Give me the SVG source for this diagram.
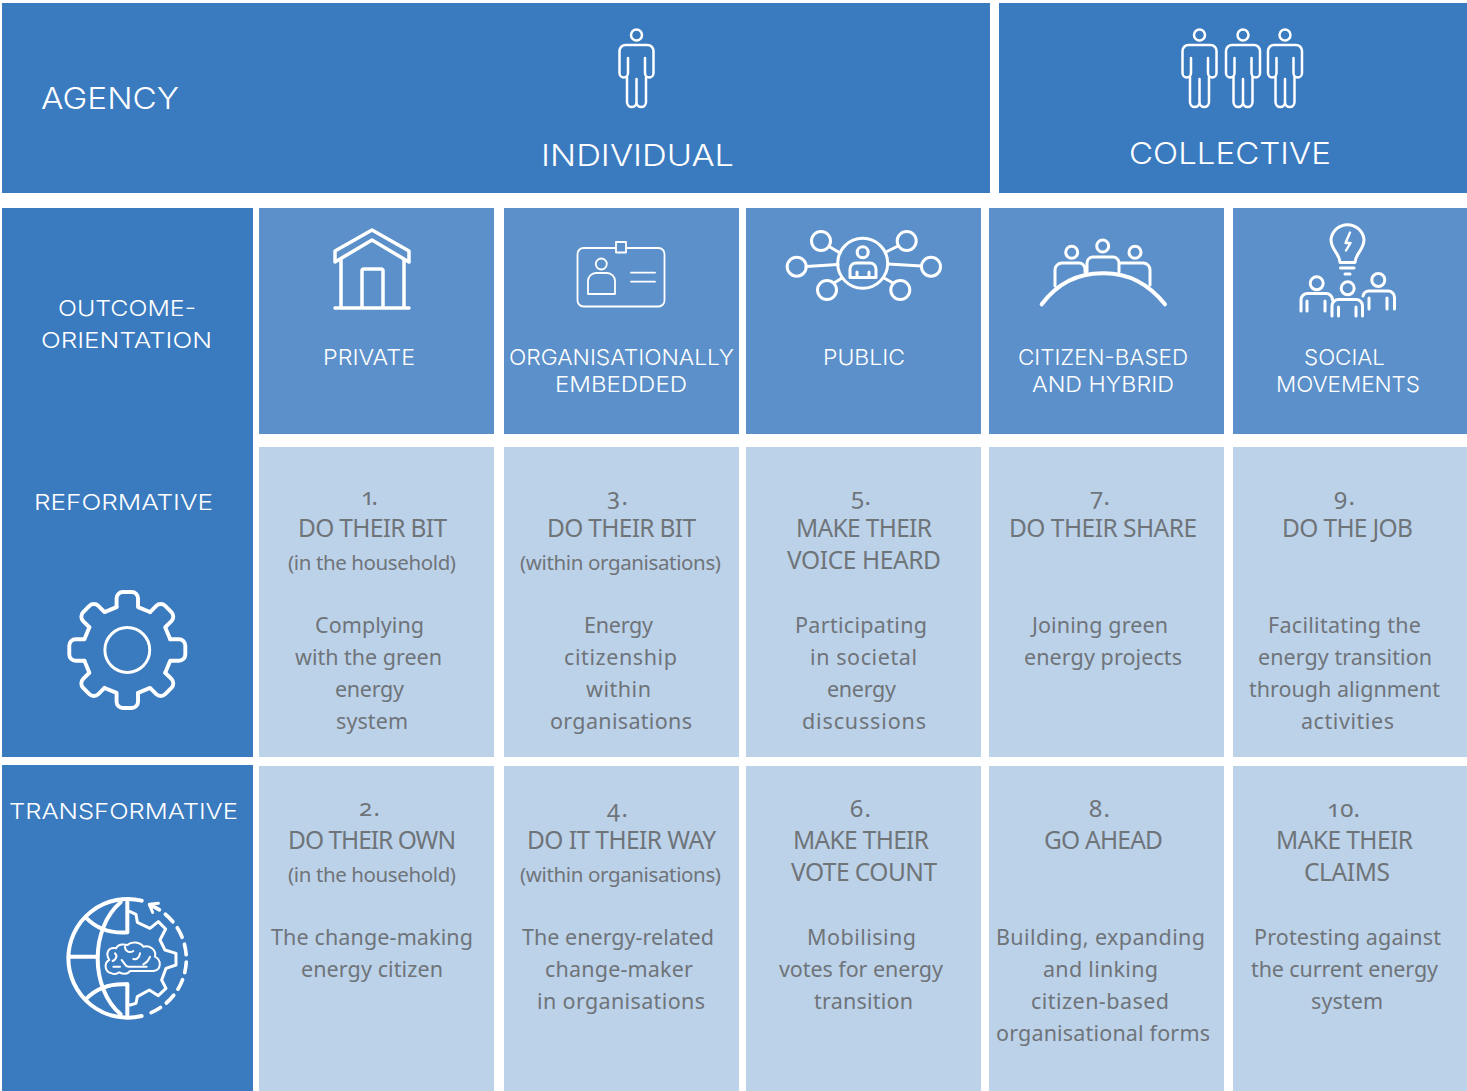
<svg xmlns="http://www.w3.org/2000/svg" width="1467" height="1091" viewBox="0 0 1467 1091">
<style>
.d{fill:#3a7abf}.m{fill:#5b90ca}.l{fill:#bcd2e9}
text{white-space:pre}
.h{font-family:"Inter","Liberation Sans",sans-serif;font-weight:300;fill:#fff}
.h1{font-size:30px}.h2{font-size:22px}
.b{font-family:"Noto Sans","Liberation Sans",sans-serif;font-weight:400;fill:#6f7479}
.t{font-size:24.500px}.s{font-size:21.500px}.p{font-size:20.500px}.n{font-size:24px;font-variant-numeric:oldstyle-nums;font-feature-settings:"onum"}
.i{fill:none;stroke:#fff;stroke-linecap:round;stroke-linejoin:round}
</style>
<defs>
<g id="person" class="i" stroke-width="2.500">
<circle cx="0" cy="35" r="5.500"/>
<path d="M-8.500,58V73a4.250,4.500 0 0 1-8.500,0V51a6,6 0 0 1 6-6H11a6,6 0 0 1 6,6V73a4.250,4.500 0 0 1-8.500,0V58"/>
<path d="M-9.500,77V102a4.750,5 0 0 0 9.500,0V79V102a4.750,5 0 0 0 9.500,0V77"/>
</g>
<path id="tooth" d="M-11,-44V-53a6.500,6.500 0 0 1 6.500-6.500h9a6.500,6.500 0 0 1 6.500,6.500V-44L23.300,-38.900"/>
</defs>
<rect width="1467" height="1091" fill="#fff"/>

<g id="agency-header">
<rect class="d" x="2" y="3" width="988" height="190"/>
<text class="h h1" x="41" y="109" textLength="138" lengthAdjust="spacingAndGlyphs">AGENCY</text>
<use href="#person" x="636.500" y="0"/>
<text class="h h1" x="541" y="166" textLength="193" lengthAdjust="spacingAndGlyphs">INDIVIDUAL</text>
</g>
<g id="collective-header">
<rect class="d" x="999" y="3" width="468" height="190"/>
<use href="#person" x="1199.500" y="0"/>
<use href="#person" x="1243" y="0"/>
<use href="#person" x="1285" y="0"/>
<text class="h h1" x="1129" y="164" textLength="202" lengthAdjust="spacingAndGlyphs">COLLECTIVE</text>
</g>

<g id="axis-reformative">
<rect class="d" x="2" y="208" width="251" height="549"/>
<text class="h h2" x="58" y="316" textLength="138" lengthAdjust="spacingAndGlyphs">OUTCOME-</text>
<text class="h h2" x="41" y="348" textLength="171" lengthAdjust="spacingAndGlyphs">ORIENTATION</text>
<text class="h h2" x="34" y="510" textLength="179" lengthAdjust="spacingAndGlyphs">REFORMATIVE</text>
<g class="i" stroke-width="4" transform="translate(127.300,650) scale(.975)">
<circle r="23" stroke-width="3"/>
<use href="#tooth"/><use href="#tooth" transform="rotate(45)"/><use href="#tooth" transform="rotate(90)"/><use href="#tooth" transform="rotate(135)"/><use href="#tooth" transform="rotate(180)"/><use href="#tooth" transform="rotate(225)"/><use href="#tooth" transform="rotate(270)"/><use href="#tooth" transform="rotate(315)"/>
</g>
</g>
<g id="axis-transformative">
<rect class="d" x="2" y="765" width="251" height="326"/>
<text class="h h2" x="9" y="819" textLength="229" lengthAdjust="spacingAndGlyphs">TRANSFORMATIVE</text>
<g class="i" transform="translate(50,885) scale(.3333)">
<g stroke-width="12">
<path d="M275,47A178,178 0 1 0 275,393"/>
<path d="M232,50V142M232,298V390M56,215H140"/>
<path d="M212,52C120,130 120,310 212,388"/>
<path d="M110,100C145,135 190,145 232,142M110,340C145,305 190,295 232,298"/>
</g>
<path stroke-width="9" d="M240,80L258,88L262,112L300,130L325,110L347,132L330,165L345,195L378,205V240L348,250L335,285L348,310L325,332L298,315L262,335L258,355L240,360"/>
<path stroke-width="11" stroke-dasharray="32 22" d="M300,60A175,175 0 0 1 298,385"/>
<path stroke-width="9" d="M325,55L298,58L308,82"/>
<g stroke-width="6">
<path fill="#3a7abf" d="M185,265C165,262 160,235 178,225C165,205 175,185 198,190C205,175 225,178 232,180C245,168 270,170 280,185C300,180 320,195 315,215C335,225 335,255 310,258H240C235,268 215,268 208,262C200,268 192,268 185,265Z"/>
<path d="M195,205C205,215 195,225 188,228M225,185C225,200 240,205 250,198M270,205C268,220 258,225 250,222M300,215C295,230 285,235 280,238M215,225C225,235 225,245 235,245H290M190,245H210"/>
</g>
</g>
</g>

<g id="col-private">
<rect class="m" x="259" y="208" width="235" height="226"/>
<g class="i" stroke-width="3.500">
<path d="M335,308H409M341,260V308M404,260V308M362,308V271a2,2 0 0 1 2-2h17a2,2 0 0 1 2,2V308"/>
<path d="M372,230L335,251V262L372,240L409,262V251Z"/>
</g>
<text class="h h2" x="323" y="365" textLength="92" lengthAdjust="spacingAndGlyphs">PRIVATE</text>
</g>
<g id="col-organisationally">
<rect class="m" x="504" y="208" width="235" height="226"/>
<g class="i" stroke-width="1.800">
<rect x="577.500" y="248" width="87" height="58.500" rx="6"/>
<rect x="616" y="242" width="10" height="10.500" fill="#5b90ca"/>
<circle cx="601.300" cy="264" r="5.500"/>
<path d="M588,294V281a8,8 0 0 1 8-8h11a8,8 0 0 1 8,8V294Z"/>
<path d="M631,272.700H655M631,281.700H655"/>
</g>
<text class="h h2" x="509" y="365" textLength="225" lengthAdjust="spacingAndGlyphs">ORGANISATIONALLY</text>
<text class="h h2" x="555" y="392" textLength="132" lengthAdjust="spacingAndGlyphs">EMBEDDED</text>
</g>
<g id="col-public">
<rect class="m" x="746" y="208" width="235" height="226"/>
<g class="i" stroke-width="3">
<circle cx="862.700" cy="263.300" r="25"/>
<circle cx="862.700" cy="252.300" r="5.500"/>
<path d="M850,277.500V269a6,6 0 0 1 6-6h14a6,6 0 0 1 6,6V277.500H869V272M850,277.500H857V272M857,277.500H869"/>
<circle cx="821" cy="241" r="9.500"/><circle cx="906.700" cy="241" r="9.500"/>
<circle cx="796.700" cy="266.700" r="9.500"/><circle cx="931" cy="266.700" r="9.500"/>
<circle cx="827" cy="290" r="9.500"/><circle cx="900.300" cy="290" r="9.500"/>
<path d="M830,247L840,253M898,246L886,252M806,266.500L838,264.500M921.500,266L888,264M834,283L842,278M893,283L884,278"/>
</g>
<text class="h h2" x="823" y="365" textLength="82" lengthAdjust="spacingAndGlyphs">PUBLIC</text>
</g>
<g id="col-citizen">
<rect class="m" x="989" y="208" width="235" height="226"/>
<g class="i" stroke-width="3">
<circle cx="1071.700" cy="252.300" r="6"/><circle cx="1102.700" cy="246" r="6"/><circle cx="1135" cy="252.300" r="6"/>
<path d="M1055,286V270a7,7 0 0 1 7-7H1079a6,6 0 0 1 6,6V272"/>
<path d="M1087,272V263a6,6 0 0 1 6-6H1113a6,6 0 0 1 6,6V272"/>
<path d="M1120,263H1143a7,7 0 0 1 7,7V285"/>
</g>
<path class="i" stroke-width="4" d="M1041.700,304.300C1060,280 1082,273 1103.300,273.300C1125,273 1147,282 1165,304.300"/>
<text class="h h2" x="1018" y="365" textLength="170" lengthAdjust="spacingAndGlyphs">CITIZEN-BASED</text>
<text class="h h2" x="1032" y="392" textLength="142" lengthAdjust="spacingAndGlyphs">AND HYBRID</text>
</g>
<g id="col-social">
<rect class="m" x="1233" y="208" width="234" height="226"/>
<g class="i" stroke-width="3">
<path d="M1340,262.500C1339.500,253 1331,250 1331,239.500A16.600,16.600 0 0 1 1364,239.500C1364,250 1355.500,253 1355,262.500Z"/>
<path d="M1340.500,268H1354M1345,274H1350"/>
<path d="M1350,232.500L1345.500,243H1350.500L1346,250.500" stroke-width="2.400"/>
<circle cx="1316.700" cy="283.300" r="6.500"/><circle cx="1347.700" cy="288.300" r="6.500"/><circle cx="1378.300" cy="280" r="6.500"/>
<path d="M1301,311V300a6.500,6.500 0 0 1 6.500-6.500H1326a6.500,6.500 0 0 1 6.500,6.500"/>
<path d="M1307,301V311M1325,301V311"/>
<path d="M1332,316V306a6.500,6.500 0 0 1 6.500-6.500H1356a6.500,6.500 0 0 1 6.500,6.500V316"/>
<path d="M1338.500,307V316M1356,307V316"/>
<path d="M1363,296a6.500,6.500 0 0 1 6-5H1388a6.500,6.500 0 0 1 6.500,6.500V309"/>
<path d="M1369,298V309M1387,298V309"/>
</g>
<text class="h h2" x="1304" y="365" textLength="81" lengthAdjust="spacingAndGlyphs">SOCIAL</text>
<text class="h h2" x="1276" y="392" textLength="144" lengthAdjust="spacingAndGlyphs">MOVEMENTS</text>
</g>

<g id="cell-1"><rect class="l" x="259" y="447" width="235" height="310"/>
<text class="b n" x="361" y="505" textLength="17">1.</text>
<text class="b t" x="298" y="537" textLength="149">DO THEIR BIT</text>
<text class="b p" x="288" y="569.500" textLength="168">(in the household)</text>
<text class="b s" x="315" y="633" textLength="109">Complying</text>
<text class="b s" x="295" y="665" textLength="147">with the green</text>
<text class="b s" x="335" y="697" textLength="69">energy</text>
<text class="b s" x="336" y="729" textLength="72">system</text></g>
<g id="cell-3"><rect class="l" x="504" y="447" width="235" height="310"/>
<text class="b n" x="607" y="505" textLength="21">3.</text>
<text class="b t" x="547" y="537" textLength="149">DO THEIR BIT</text>
<text class="b p" x="520" y="569.500" textLength="201">(within organisations)</text>
<text class="b s" x="584" y="633" textLength="69">Energy</text>
<text class="b s" x="564" y="665" textLength="113">citizenship</text>
<text class="b s" x="586" y="697" textLength="65">within</text>
<text class="b s" x="550" y="729" textLength="142">organisations</text></g>
<g id="cell-5"><rect class="l" x="746" y="447" width="235" height="310"/>
<text class="b n" x="851" y="505" textLength="20">5.</text>
<text class="b t" x="796" y="537" textLength="136">MAKE THEIR</text>
<text class="b t" x="787" y="569" textLength="154">VOICE HEARD</text>
<text class="b s" x="795" y="633" textLength="132">Participating</text>
<text class="b s" x="810" y="665" textLength="107">in societal</text>
<text class="b s" x="827" y="697" textLength="69">energy</text>
<text class="b s" x="802" y="729" textLength="124">discussions</text></g>
<g id="cell-7"><rect class="l" x="989" y="447" width="235" height="310"/>
<text class="b n" x="1090" y="505" textLength="20">7.</text>
<text class="b t" x="1009" y="537" textLength="188">DO THEIR SHARE</text>
<text class="b s" x="1032" y="633" textLength="136">Joining green</text>
<text class="b s" x="1024" y="665" textLength="158">energy projects</text></g>
<g id="cell-9"><rect class="l" x="1233" y="447" width="234" height="310"/>
<text class="b n" x="1334" y="505" textLength="21">9.</text>
<text class="b t" x="1282" y="537" textLength="131">DO THE JOB</text>
<text class="b s" x="1268" y="633" textLength="153">Facilitating the</text>
<text class="b s" x="1258" y="665" textLength="174">energy transition</text>
<text class="b s" x="1249" y="697" textLength="191">through alignment</text>
<text class="b s" x="1301" y="729" textLength="93">activities</text></g>

<g id="cell-2"><rect class="l" x="259" y="766" width="235" height="325"/>
<text class="b n" x="359" y="816" textLength="21">2.</text>
<text class="b t" x="288" y="849" textLength="168">DO THEIR OWN</text>
<text class="b p" x="288" y="881.500" textLength="168">(in the household)</text>
<text class="b s" x="271" y="945" textLength="202">The change-making</text>
<text class="b s" x="301" y="977" textLength="142">energy citizen</text></g>
<g id="cell-4"><rect class="l" x="504" y="766" width="235" height="325"/>
<text class="b n" x="607" y="817" textLength="21">4.</text>
<text class="b t" x="527" y="849" textLength="189">DO IT THEIR WAY</text>
<text class="b p" x="520" y="881.500" textLength="201">(within organisations)</text>
<text class="b s" x="522" y="945" textLength="192">The energy-related</text>
<text class="b s" x="545" y="977" textLength="148">change-maker</text>
<text class="b s" x="537" y="1009" textLength="168">in organisations</text></g>
<g id="cell-6"><rect class="l" x="746" y="766" width="235" height="325"/>
<text class="b n" x="850" y="817" textLength="21">6.</text>
<text class="b t" x="793" y="849" textLength="136">MAKE THEIR</text>
<text class="b t" x="791" y="881" textLength="146">VOTE COUNT</text>
<text class="b s" x="807" y="945" textLength="109">Mobilising</text>
<text class="b s" x="779" y="977" textLength="164">votes for energy</text>
<text class="b s" x="814" y="1009" textLength="99">transition</text></g>
<g id="cell-8"><rect class="l" x="989" y="766" width="235" height="325"/>
<text class="b n" x="1089" y="817" textLength="21">8.</text>
<text class="b t" x="1044" y="849" textLength="119">GO AHEAD</text>
<text class="b s" x="996" y="945" textLength="209">Building, expanding</text>
<text class="b s" x="1043" y="977" textLength="115">and linking</text>
<text class="b s" x="1031" y="1009" textLength="138">citizen-based</text>
<text class="b s" x="996" y="1041" textLength="214">organisational forms</text></g>
<g id="cell-10"><rect class="l" x="1233" y="766" width="234" height="325"/>
<text class="b n" x="1327" y="817" textLength="33">10.</text>
<text class="b t" x="1276" y="849" textLength="137">MAKE THEIR</text>
<text class="b t" x="1304" y="881" textLength="86">CLAIMS</text>
<text class="b s" x="1254" y="945" textLength="187">Protesting against</text>
<text class="b s" x="1251" y="977" textLength="187">the current energy</text>
<text class="b s" x="1311" y="1009" textLength="72">system</text></g>
</svg>
